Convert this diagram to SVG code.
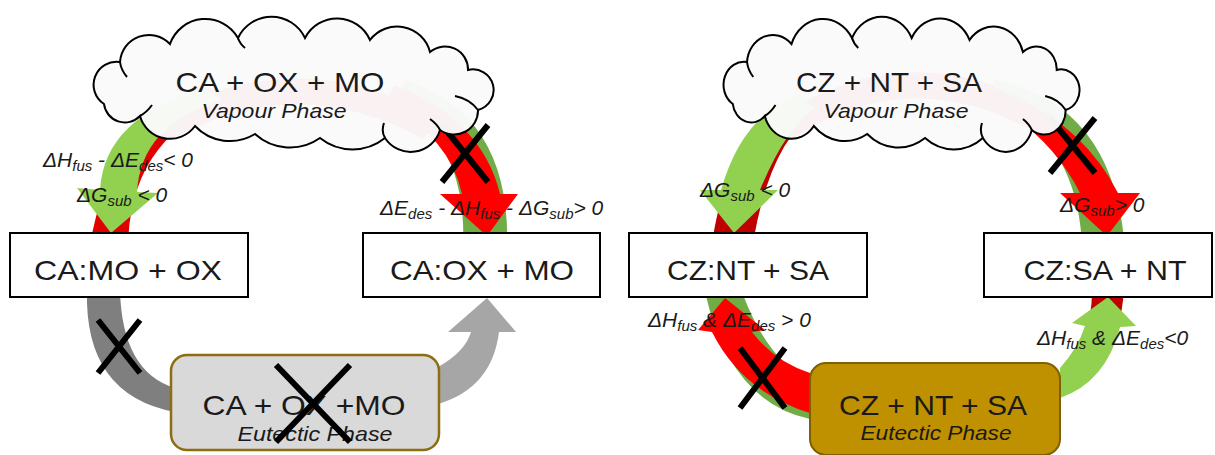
<svg xmlns="http://www.w3.org/2000/svg" width="1215" height="455" viewBox="0 0 1215 455">
<defs>
<style>
.t{font-family:"Liberation Sans",Arial,sans-serif;fill:#1a1a1a}
.big{font-size:28px}
.ph{font-size:21px;font-style:italic}
.lab{font-size:21px;font-style:italic}
.sub{font-size:15px}
.box{fill:#fff;stroke:#000;stroke-width:2}
.cloud{fill:#FAFAFA;fill-opacity:0.97;stroke:#000;stroke-width:2}
.crease{fill:none;stroke:#000;stroke-width:2}
.x{stroke:#000;stroke-width:6}
.faint{fill:none;stroke:#f00;stroke-width:26}
.gl{fill:#92D050}
.gd{fill:#70AD47}
.r{fill:#FF0000}
.rd{fill:#C00000}
</style>
<path id="cloudShape" vector-effect="non-scaling-stroke" d="M 104 104 A 23 23 0 0 1 120 62 A 29 29 0 0 1 170 44 A 37.5 37.5 0 0 1 238 38 A 37 37 0 0 1 305 38 A 36 36 0 0 1 370 40 A 34 34 0 0 1 430 52 A 23 23 0 0 1 468 70 A 20.6 20.6 0 0 1 478 110 A 24 24 0 0 1 440 130 A 30.6 30.6 0 0 1 385 138 A 52 52 0 0 1 320 138 A 52 52 0 0 1 255 134 A 48 48 0 0 1 195 126 A 31 31 0 0 1 140 116 A 21 21 0 0 1 104 104 Z"/>
<path id="cloudCrease" vector-effect="non-scaling-stroke" d="M 120 62 Q 121 70 127 77 M 478 110 Q 470 99 455 96 M 440 130 Q 437 124 430 119 M 385 138 Q 381 131 384 123 M 140 116 Q 147 112 152 105 M 238 38 Q 240 44 245 48"/>
</defs>

<g id="connectors">
  <!-- left panel -->
  <path class="faint" d="M 165 128 Q 297 55 430 128"/>
  <path fill="#E00000" d="M 215 88 Q 112 110 89 250 L 128 250 Q 128 140 225 102 Z"/>
  <path class="gl" d="M 205 88 Q 104 117 100 190 L 77 188 L 111 233 L 158 193 L 137 192 Q 141 124 222 100 Z"/>
  <path class="gd" d="M 405 80 Q 512 115 507 250 L 463 250 Q 468 145 398 100 Z"/>
  <path class="r" d="M 395 85 Q 482 120 500 194 L 518 194 L 487 236 L 440 194 L 462 194 Q 450 138 385 102 Z"/>
  <path fill="#7F7F7F" d="M 87 290 Q 84 395 175 412 L 175 388 Q 122 372 120 290 Z"/>
  <path fill="#A6A6A6" d="M 438 367 Q 465 352 471 332 L 448 332 L 487 298 L 516 332 L 499 332 Q 492 388 438 404 Z"/>
  <path class="x" d="M 442 125 L 488 182 M 488 125 L 442 182"/>
  <path class="x" d="M 98 320 L 140 373 M 140 320 L 98 373"/>
  <!-- right panel -->
  <path class="faint" d="M 785 128 Q 905 50 1030 115"/>
  <path class="rd" d="M 800 98 Q 728 125 711 250 L 752 250 Q 768 145 815 112 Z"/>
  <path class="gl" d="M 800 95 Q 743 113 721 190 L 700 190 L 734 233 L 778 190 L 760 190 Q 786 127 815 108 Z"/>
  <path class="gd" d="M 995 80 Q 1115 105 1125 250 L 1082 250 Q 1080 145 995 95 Z"/>
  <path class="r" d="M 985 85 Q 1078 115 1118 193 L 1140 193 L 1107 236 L 1060 193 L 1080 193 Q 1045 125 975 97 Z"/>
  <path class="gd" d="M 810 419 Q 730 402 705 292 L 742 292 Q 768 362 810 380 Z"/>
  <path class="r" d="M 810 413 Q 742 392 712 332 L 698 330 L 725 298 L 765 330 L 752 332 Q 775 362 810 373 Z"/>
  <path class="rd" d="M 1060 372 Q 1092 345 1092 290 L 1124 290 Q 1118 372 1060 394 Z"/>
  <path class="gl" d="M 1060 368 Q 1078 348 1085 326 L 1072 323 L 1108 297 L 1136 326 L 1120 327 Q 1106 382 1060 398 Z"/>
  <path class="x" d="M 1050 118 L 1095 173 M 1095 118 L 1050 173"/>
  <path class="x" d="M 740 348 L 785 408 M 785 348 L 740 408"/>
</g>

<g id="vapour-left">
  <use href="#cloudShape" class="cloud"/>
  <use href="#cloudCrease" class="crease"/>
  <text class="t big" x="280" y="92" text-anchor="middle" textLength="209" lengthAdjust="spacingAndGlyphs">CA + OX + MO</text>
  <text class="t ph" x="274" y="118" text-anchor="middle" textLength="145" lengthAdjust="spacingAndGlyphs">Vapour Phase</text>
</g>
<g id="camo">
  <rect class="box" x="10" y="233" width="238" height="64"/>
  <text class="t big" x="128" y="280" text-anchor="middle" textLength="188" lengthAdjust="spacingAndGlyphs">CA:MO + OX</text>
</g>
<g id="caox">
  <rect class="box" x="363" y="233" width="237" height="64"/>
  <text class="t big" x="482" y="280" text-anchor="middle" textLength="184" lengthAdjust="spacingAndGlyphs">CA:OX + MO</text>
</g>
<g id="eutectic-left">
  <rect x="171" y="355" width="268" height="95" rx="16" fill="#D9D9D9" stroke="#8C6D0F" stroke-width="2.5"/>
  <text class="t big" x="304" y="415" text-anchor="middle" textLength="203" lengthAdjust="spacingAndGlyphs">CA + OX +MO</text>
  <text class="t ph" x="315" y="441" text-anchor="middle" textLength="155" lengthAdjust="spacingAndGlyphs">Eutectic Phase</text>
  <path class="x" stroke-width="7" d="M 276 365 L 350 442 M 350 365 L 276 442"/>
</g>

<g id="vapour-right">
  <g transform="translate(723,0) scale(0.89,1) translate(-93,0)">
    <use href="#cloudShape" class="cloud"/>
    <use href="#cloudCrease" class="crease"/>
  </g>
  <text class="t big" x="889" y="92" text-anchor="middle" textLength="186" lengthAdjust="spacingAndGlyphs">CZ + NT + SA</text>
  <text class="t ph" x="896" y="118" text-anchor="middle" textLength="145" lengthAdjust="spacingAndGlyphs">Vapour Phase</text>
</g>
<g id="czna">
  <rect class="box" x="629" y="233" width="238" height="64"/>
  <text class="t big" x="748" y="280" text-anchor="middle" textLength="162" lengthAdjust="spacingAndGlyphs">CZ:NT + SA</text>
</g>
<g id="czsa">
  <rect class="box" x="984" y="233" width="228" height="64"/>
  <text class="t big" x="1105" y="280" text-anchor="middle" textLength="163" lengthAdjust="spacingAndGlyphs">CZ:SA + NT</text>
</g>
<g id="eutectic-right">
  <rect x="810" y="363" width="250" height="92" rx="16" fill="#BF9000" stroke="#7F6000" stroke-width="2"/>
  <text class="t big" x="933" y="415" text-anchor="middle" textLength="188" lengthAdjust="spacingAndGlyphs">CZ + NT + SA</text>
  <text class="t ph" x="936" y="440" text-anchor="middle" textLength="151" lengthAdjust="spacingAndGlyphs">Eutectic Phase</text>
</g>

<g id="labels">
  <text class="t lab" x="43" y="167">ΔH<tspan class="sub" dy="4">fus</tspan><tspan dy="-4"> - ΔE</tspan><tspan class="sub" dy="4">des</tspan><tspan dy="-4">&lt; 0</tspan></text>
  <text class="t lab" x="77" y="202">ΔG<tspan class="sub" dy="4">sub</tspan><tspan dy="-4"> &lt; 0</tspan></text>
  <text class="t lab" x="380" y="215">ΔE<tspan class="sub" dy="4">des</tspan><tspan dy="-4"> - ΔH</tspan><tspan class="sub" dy="4">fus</tspan><tspan dy="-4"> - ΔG</tspan><tspan class="sub" dy="4">sub</tspan><tspan dy="-4">&gt; 0</tspan></text>
  <text class="t lab" x="700" y="197">ΔG<tspan class="sub" dy="4">sub</tspan><tspan dy="-4"> &lt; 0</tspan></text>
  <text class="t lab" x="1060" y="212">ΔG<tspan class="sub" dy="4">sub</tspan><tspan dy="-4">&gt; 0</tspan></text>
  <text class="t lab" x="648" y="327">ΔH<tspan class="sub" dy="4">fus</tspan><tspan dy="-4"> &amp; ΔE</tspan><tspan class="sub" dy="4">des</tspan><tspan dy="-4"> &gt; 0</tspan></text>
  <text class="t lab" x="1037" y="345">ΔH<tspan class="sub" dy="4">fus</tspan><tspan dy="-4"> &amp; ΔE</tspan><tspan class="sub" dy="4">des</tspan><tspan dy="-4">&lt;0</tspan></text>
</g>
</svg>
